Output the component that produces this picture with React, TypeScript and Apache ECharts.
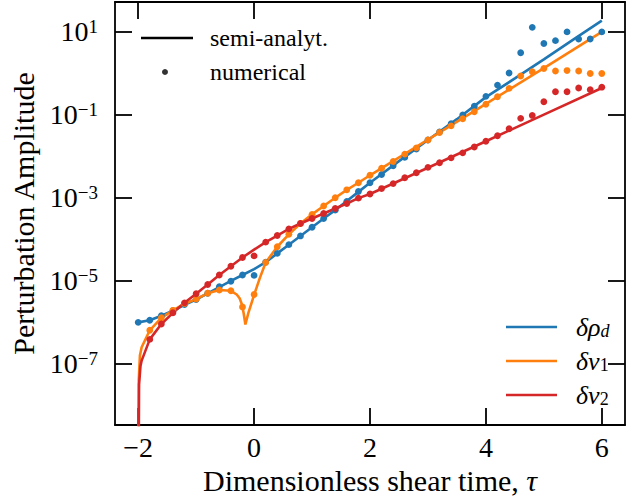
import React, { useEffect, useRef } from 'react';
import * as echarts from 'echarts';

// log10 of the perturbation amplitudes
const xNum = [-2.0, -1.8, -1.6, -1.4, -1.2, -1.0, -0.8, -0.6, -0.4, -0.2, 0.0,
  0.2, 0.4, 0.6, 0.8, 1.0, 1.2, 1.4, 1.6, 1.8, 2.0,
  2.2, 2.4, 2.6, 2.8, 3.0, 3.2, 3.4, 3.6, 3.8, 4.0,
  4.2, 4.4, 4.6, 4.8, 5.0, 5.2, 5.4, 5.6, 5.8, 6.0];

const rhoNumLog = [-6.00, -5.95, -5.84, -5.72, -5.57, -5.45, -5.30, -5.14, -5.01, -4.86, -4.87,
  -4.55, -4.34, -4.13, -3.92, -3.71, -3.50, -3.30, -3.09, -2.85, -2.64,
  -2.44, -2.23, -2.03, -1.83, -1.61, -1.42, -1.22, -1.01, -0.80, -0.56,
  -0.29, 0.00, 0.49, 1.10, 0.71, 0.78, 0.99, 0.82, 0.82, 0.99];

const v1NumLog = [null, -6.19, -5.89, -5.71, -5.55, -5.44, -5.30, -5.22, -5.24, -5.63, -5.33,
  -4.56, -4.18, -3.88, -3.62, -3.40, -3.20, -3.00, -2.81, -2.64, -2.46,
  -2.29, -2.13, -1.95, -1.80, -1.61, -1.43, -1.27, -1.10, -0.93, -0.75,
  -0.57, -0.37, -0.07, 0.03, 0.11, 0.05, 0.06, 0.05, -0.01, -0.01];

const v2NumLog = [null, -6.41, -6.04, -5.77, -5.53, -5.31, -5.09, -4.86, -4.65, -4.44, -4.40,
  -4.07, -3.91, -3.75, -3.62, -3.50, -3.38, -3.26, -3.14, -3.01, -2.91,
  -2.78, -2.66, -2.52, -2.40, -2.27, -2.16, -2.04, -1.92, -1.78, -1.64,
  -1.51, -1.34, -1.09, -1.02, -0.69, -0.45, -0.45, -0.36, -0.40, -0.34];

const rhoLineX = [-2.0, -1.8, -1.6, -1.4, -1.2, -1.0, -0.8, -0.6, -0.4, -0.2, 0.0, 0.2, 0.4, 0.6, 0.8,
  1.0, 1.2, 1.4, 1.6, 1.8, 2.0, 2.5, 3.0, 3.5, 4.0, 4.5, 5.0, 5.5, 6.0];
const rhoLineLog = [-6.00, -5.95, -5.84, -5.72, -5.58, -5.45, -5.30, -5.15, -5.00, -4.86, -4.72, -4.55, -4.34, -4.13, -3.92,
  -3.71, -3.50, -3.30, -3.08, -2.86, -2.64, -2.12, -1.61, -1.11, -0.58, -0.13, 0.33, 0.80, 1.26];

const v1LineX = [-2.0, -1.99, -1.97, -1.94, -1.8, -1.6, -1.4, -1.2, -1.0, -0.8, -0.6, -0.4, -0.3, -0.25, -0.21, -0.18,
  -0.15, -0.1, -0.05, 0.0, 0.1, 0.2, 0.4, 0.6, 0.8, 1.0, 1.2, 1.4, 1.6, 1.8, 2.0, 3.0, 4.0, 5.0, 6.0];
const v1LineLog = [-12, -7.4, -6.8, -6.6, -6.19, -5.89, -5.71, -5.55, -5.44, -5.30, -5.22, -5.24, -5.33, -5.42, -5.57, -5.78,
  -6.05, -5.78, -5.56, -5.34, -4.93, -4.56, -4.18, -3.88, -3.62, -3.40, -3.20, -3.00, -2.81, -2.64, -2.46, -1.60, -0.74, 0.12, 0.99];

const v2LineX = [-2.0, -1.985, -1.96, -1.94, -1.8, -1.6, -1.4, -1.2, -1.0, -0.8, -0.6, -0.4, -0.2, 0.0, 0.2, 0.4, 0.6, 0.8,
  1.0, 1.2, 1.4, 1.6, 1.8, 2.0, 3.0, 4.0, 5.0, 6.0];
const v2LineLog = [-12, -7.5, -7.05, -6.92, -6.41, -6.04, -5.77, -5.53, -5.31, -5.09, -4.86, -4.65, -4.44, -4.25, -4.07, -3.91, -3.75, -3.62,
  -3.50, -3.38, -3.26, -3.14, -3.01, -2.91, -2.28, -1.64, -1.00, -0.36];

const xTicks = [-2, 0, 2, 4, 6];
const yTicksLog = [-7, -5, -3, -1, 1];

const C_RHO = '#1f77b4';
const C_V1 = '#ff7f0e';
const C_V2 = '#d62728';
const FONT = 'Liberation Serif';

const pairs = (xs: number[], ys: (number | null)[]) =>
  xs.map((x, i) => [x, ys[i]] as [number, number | null]).filter((p) => p[1] !== null);

const minusify = (n: number) => (n < 0 ? '\u2212' + Math.abs(n) : String(n));

export default function App() {
  const ref = useRef<HTMLDivElement>(null);
  useEffect(() => {
    if (!ref.current) return;
    const chart = echarts.init(ref.current, null, { renderer: 'svg' });
    const axisLine = { show: true, onZero: false, lineStyle: { color: '#000', width: 1.8 } };
    const tick = (vals: number[]) => ({
      show: true, inside: true, length: 17, customValues: vals,
      lineStyle: { color: '#000', width: 1.8 },
    });
    const lineSeries = (name: string, color: string, xs: number[], ys: number[]) => ({
      name, type: 'line', data: pairs(xs, ys), showSymbol: false, symbol: 'none',
      lineStyle: { color, width: 2.6 }, itemStyle: { color }, color, clip: true, z: 2,
    });
    const scatterSeries = (name: string, color: string, ys: (number | null)[]) => ({
      name, type: 'scatter', data: pairs(xNum, ys), symbolSize: 6.8,
      itemStyle: { color, opacity: 1 }, z: 3,
    });
    const legendText = { color: '#000', fontFamily: FONT, fontSize: 24, lineHeight: 26 };
    chart.setOption({
      animation: false,
      backgroundColor: '#fff',
      grid: { left: 115, right: 13, top: 2, bottom: 75, containLabel: false, outerBoundsMode: 'none' },
      xAxis: [
        {
          type: 'value', min: -2.4, max: 6.4, position: 'bottom',
          axisLine, axisTick: tick(xTicks), splitLine: { show: false },
          axisLabel: {
            customValues: xTicks, formatter: (v: number) => minusify(v),
            color: '#000', fontFamily: FONT, fontSize: 28, margin: 8,
          },
          name: 'Dimensionless shear time, {i|\u03c4}', nameLocation: 'middle', nameGap: 35,
          nameTextStyle: {
            color: '#000', fontFamily: FONT, fontSize: 30,
            rich: { i: { fontStyle: 'italic', fontFamily: FONT, fontSize: 30, color: '#000' } },
          },
        },
        {
          type: 'value', min: -2.4, max: 6.4, position: 'top',
          axisLine, axisTick: tick(xTicks), axisLabel: { show: false }, splitLine: { show: false },
        },
      ],
      yAxis: [
        {
          type: 'value', min: -8.47, max: 1.71, position: 'left',
          axisLine, axisTick: tick(yTicksLog), splitLine: { show: false },
          axisLabel: {
            customValues: yTicksLog, margin: 17,
            formatter: (v: number) => `{b|10}{s|${minusify(Math.round(v))}}`,
            rich: {
              b: { fontSize: 28, fontFamily: FONT, color: '#000', lineHeight: 30 },
              s: { fontSize: 19, fontFamily: FONT, color: '#000', lineHeight: 19, verticalAlign: 'top' },
            },
          },
          name: 'Perturbation Amplitude', nameLocation: 'middle', nameGap: 73,
          nameTextStyle: { color: '#000', fontFamily: FONT, fontSize: 30 },
        },
        {
          type: 'value', min: -8.47, max: 1.71, position: 'right',
          axisLine, axisTick: tick(yTicksLog), axisLabel: { show: false }, splitLine: { show: false },
        },
      ],
      legend: [
        {
          data: ['semi-analyt.'], left: 136, top: 20, orient: 'vertical', selectedMode: false,
          icon: 'rect', itemWidth: 52, itemHeight: 2.4,
          textStyle: { ...legendText, padding: [0, 0, 0, 12] },
        },
        {
          data: ['numerical'], left: 157, top: 54, orient: 'vertical', selectedMode: false,
          icon: 'circle', itemWidth: 6, itemHeight: 6,
          textStyle: { ...legendText, padding: [0, 0, 0, 37] },
        },
        {
          data: ['rho', 'v1', 'v2'], left: 501, top: 309, orient: 'vertical', selectedMode: false,
          icon: 'rect', itemWidth: 51, itemHeight: 2.6, itemGap: 8,
          formatter: (name: string) =>
            ({ rho: '{m|\u03b4\u03c1}{s|d}', v1: '{m|\u03b4v}{n|1}', v2: '{m|\u03b4v}{n|2}' } as any)[name],
          textStyle: {
            ...legendText, padding: [0, 0, 0, 14],
            rich: {
              m: { fontSize: 26, fontFamily: FONT, fontStyle: 'italic', color: '#000', lineHeight: 26 },
              s: { fontSize: 18, fontFamily: FONT, fontStyle: 'italic', color: '#000', lineHeight: 12, verticalAlign: 'bottom' },
              n: { fontSize: 18, fontFamily: FONT, color: '#000', lineHeight: 12, verticalAlign: 'bottom' },
            },
          },
        },
      ],
      series: [
        lineSeries('rho', C_RHO, rhoLineX, rhoLineLog),
        scatterSeries('rhoNum', C_RHO, rhoNumLog),
        lineSeries('v1', C_V1, v1LineX, v1LineLog),
        scatterSeries('v1Num', C_V1, v1NumLog),
        lineSeries('v2', C_V2, v2LineX, v2LineLog),
        scatterSeries('v2Num', C_V2, v2NumLog),
        { name: 'semi-analyt.', type: 'line', data: [], color: '#000', itemStyle: { color: '#000' }, lineStyle: { color: '#000' } },
        { name: 'numerical', type: 'scatter', data: [], color: '#000', itemStyle: { color: '#000' } },
      ],
    });
    return () => chart.dispose();
  }, []);
  return <div ref={ref} style={{ position: 'fixed', left: 0, top: 0, width: 638, height: 500 }} />;
}
